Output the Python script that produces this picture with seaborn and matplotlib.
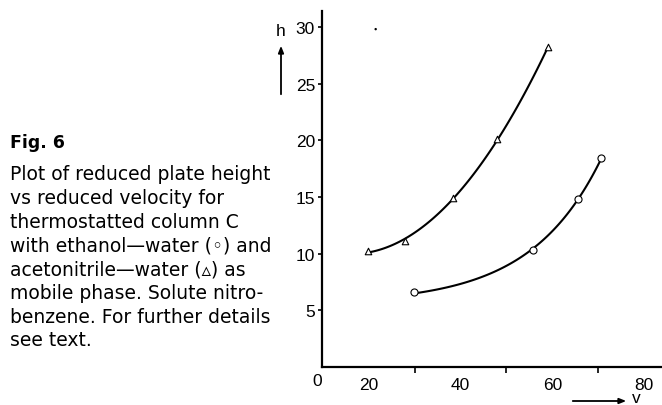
import matplotlib
matplotlib.use("Agg")
import matplotlib.pyplot as plt
import seaborn as sns
import pandas as pd
import numpy as np

# Data
acn_v = [19.8, 27.8, 38.4, 48.0, 59.1]
acn_h = [10.2, 11.1, 14.9, 20.1, 28.2]
eth_v = [29.8, 55.8, 65.7, 70.6]
eth_h = [6.6, 10.3, 14.8, 18.4]
stray_v = [21.5]
stray_h = [29.8]

x_ticks = [20, 40, 60, 80]
x_minor = [30, 50, 70]
y_ticks = [5, 10, 15, 20, 25, 30]

caption_title = "Fig. 6"
caption_lines = [
    "Plot of reduced plate height",
    "vs reduced velocity for",
    "thermostatted column C",
    "with ethanol\u2014water (\u25e6) and",
    "acetonitrile\u2014water (\u25b5) as",
    "mobile phase. Solute nitro-",
    "benzene. For further details",
    "see text.",
]

sns.set_style("ticks")
plt.rcParams['font.family'] = ['Liberation Sans', 'DejaVu Sans']
for k in ["text.color", "axes.labelcolor", "xtick.color", "ytick.color", "axes.edgecolor"]:
    plt.rcParams[k] = "black"

W, H = 662, 406
fig = plt.figure(figsize=(W / 100, H / 100), dpi=100)
ax = fig.add_axes([322 / W, 1 - 368 / H, (661 - 322) / W, (368 - 12) / H])

df_acn = pd.DataFrame({"v": acn_v, "h": acn_h})
df_eth = pd.DataFrame({"v": eth_v, "h": eth_h})

# acetonitrile-water: quadratic fit drawn by seaborn
sns.regplot(data=df_acn, x="v", y="h", order=2, ci=None, ax=ax, marker="^",
            color="black", truncate=True,
            scatter_kws=dict(s=22, facecolors="white", edgecolors="black",
                             linewidths=0.8, alpha=1, zorder=3),
            line_kws=dict(lw=1.5, zorder=2))

# ethanol-water: smooth convex fit h = a + b*exp(k v) through the read points
k_rate = 0.065
coef = np.polyfit(np.exp(k_rate * df_eth["v"]), df_eth["h"], 1)
grid = np.linspace(df_eth["v"].min(), df_eth["v"].max(), 120)
fit_eth = pd.DataFrame({"v": grid, "h": np.polyval(coef, np.exp(k_rate * grid))})
sns.lineplot(data=fit_eth, x="v", y="h", ax=ax, color="black", lw=1.5, zorder=2)
sns.scatterplot(data=df_eth, x="v", y="h", ax=ax, marker="o", s=26,
                facecolor="white", edgecolor="black", linewidth=0.8, zorder=3)

sns.scatterplot(x=stray_v, y=stray_h, ax=ax, s=3, color="black", edgecolor="none")

ax.set_xlim(9.8, 83.7)
ax.set_ylim(0, 31.4)
ax.set_xticks(x_ticks)
ax.set_xticks(x_minor, minor=True)
ax.set_yticks(y_ticks)
ax.set_yticklabels([str(t) for t in y_ticks])
ax.set_xticklabels([str(t) for t in x_ticks])
ax.tick_params(axis="x", which="major", length=0, pad=7, labelsize=12.5)
ax.tick_params(axis="x", which="minor", length=4, width=1.2, direction="out")
ax.tick_params(axis="y", which="major", length=3, width=1.2, pad=2, labelsize=12.5)
ax.set_xlabel("")
ax.set_ylabel("")
for s in ["top", "right"]:
    ax.spines[s].set_visible(False)
for s in ["left", "bottom"]:
    ax.spines[s].set_linewidth(1.6)
    ax.spines[s].set_color("black")

# origin label
fig.text(317 / W, 1 - 382 / H, "0", ha="center", va="center", fontsize=12.5)

# axis name labels with arrows
fig.text(281 / W, 1 - 31 / H, "h", ha="center", va="center", fontsize=12.5)
fig.add_artist(matplotlib.patches.FancyArrowPatch(
    (281 / W, 1 - 98 / H), (281 / W, 1 - 44 / H), transform=fig.transFigure,
    arrowstyle="-|>,head_length=4,head_width=1.6", lw=1.3, color="black"))
fig.text(636 / W, 1 - 399 / H, "v", ha="center", va="center", fontsize=12.5)
fig.add_artist(matplotlib.patches.FancyArrowPatch(
    (570 / W, 1 - 402 / H), (629 / W, 1 - 402 / H), transform=fig.transFigure,
    arrowstyle="-|>,head_length=4,head_width=1.6", lw=1.3, color="black"))

# caption
fig.text(10 / W, 1 - 143 / H, caption_title, ha="left", va="center",
         fontsize=12.5, fontweight="bold", family="DejaVu Sans")
for i, line in enumerate(caption_lines):
    fig.text(10 / W, 1 - (175 + i * 23.7) / H, line, ha="left", va="center",
             fontsize=13.5, family="DejaVu Sans")

fig.savefig("out.png", dpi=100)
